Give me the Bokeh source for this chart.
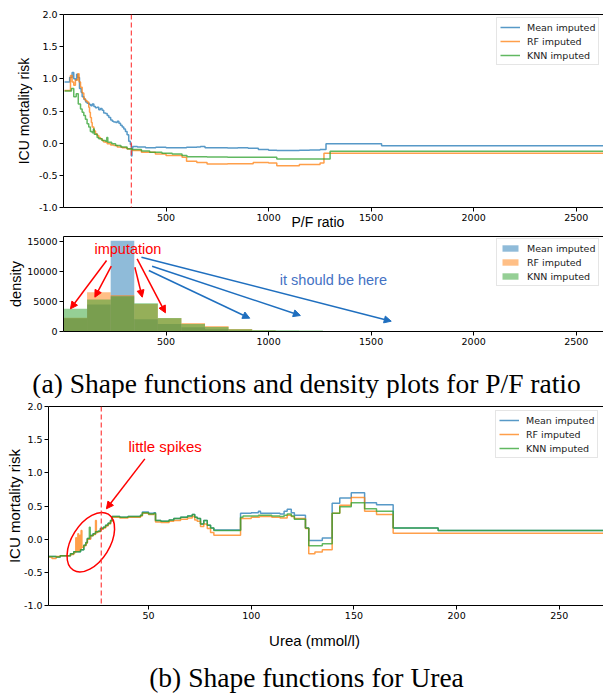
import numpy as np
from bokeh.plotting import figure
from bokeh.layouts import column
from bokeh.models import (Span, Label, Arrow, NormalHead, LinearAxis, FixedTicker,
                          Range1d, NumeralTickFormatter, Title)
from bokeh.embed import file_html
from bokeh.resources import INLINE

# ---------------- data ----------------
series_names = ["Mean imputed", "RF imputed", "KNN imputed"]
colors = ["#1f77b4", "#ff7f0e", "#2ca02c"]

# (a) shape functions, P/F ratio
pf_mean_x = [5, 30, 42, 50, 58, 64, 70, 78, 86, 91, 100, 108, 115, 125, 133, 140, 148, 156, 164, 172,
             180, 188, 196, 205, 213, 221, 230, 238, 245, 255, 262, 270, 278, 286, 294, 302, 310, 318, 326, 331,
             334, 338, 360, 400, 450, 500, 550, 600, 650, 668, 690, 750, 800, 850, 900, 950, 1000, 1040, 1100, 1150,
             1200, 1251, 1280, 1551, 2633]
pf_mean_y = [0.95, 1.02, 1.10, 1.00, 0.98, 1.07, 1.02, 0.85, 0.79, 0.72, 0.68, 0.64, 0.62, 0.60, 0.58, 0.61, 0.57, 0.55, 0.56, 0.52,
             0.54, 0.51, 0.47, 0.46, 0.43, 0.40, 0.36, 0.34, 0.33, 0.32, 0.34, 0.31, 0.28, 0.25, 0.22, 0.18, 0.13, 0.03, -0.02, -0.20,
             -0.08, -0.05, -0.06, -0.07, -0.065, -0.07, -0.07, -0.065, -0.06, -0.05, -0.07, -0.07, -0.075, -0.07, -0.08, -0.10, -0.11, -0.115, -0.115, -0.11,
             -0.105, -0.10, -0.01, -0.04, -0.04]

pf_rf_x = [5, 34, 42, 50, 58, 70, 76, 83, 91, 99, 107, 115, 123, 127, 131, 136, 140, 148, 156, 164,
           172, 180, 188, 196, 205, 213, 230, 245, 262, 286, 310, 334, 380, 448, 500, 578, 600, 650, 700, 800,
           925, 1000, 1040, 1150, 1251, 1270, 2633]
pf_rf_y = [0.82, 1.05, 0.95, 0.90, 0.98, 1.08, 0.95, 0.87, 0.78, 0.69, 0.66, 0.64, 0.56, 0.48, 0.40, 0.32, 0.25, 0.19, 0.145, 0.12,
           0.09, 0.067, 0.04, 0.02, 0.015, -0.01, -0.03, -0.037, -0.06, -0.073, -0.09, -0.115, -0.14, -0.167, -0.19, -0.22, -0.28, -0.30, -0.325, -0.32,
           -0.30, -0.31, -0.35, -0.33, -0.31, -0.157, -0.157]

pf_knn_x = [5, 39, 50, 62, 72, 83, 91, 99, 107, 115, 123, 131, 140, 146, 150, 164, 172, 188, 205, 211,
            216, 235, 254, 280, 310, 334, 380, 420, 480, 530, 578, 602, 700, 800, 925, 1040, 1300, 2633]
pf_knn_y = [0.81, 0.85, 0.72, 0.77, 0.61, 0.53, 0.48, 0.43, 0.37, 0.30, 0.25, 0.18, 0.16, 0.22, 0.14, 0.09, 0.07, 0.04, 0.03, 0.09,
            0.015, -0.01, -0.037, -0.06, -0.085, -0.10, -0.12, -0.14, -0.157, -0.17, -0.19, -0.21, -0.215, -0.22, -0.22, -0.245, -0.126, -0.126]

pf_cut = 331

# density plot, P/F ratio
hist_edges = [0, 115, 230, 345, 460, 575, 690, 805, 920, 1035, 1150, 1265]
hist_mean = [2200, 4500, 15100, 2030, 1250, 700, 380, 180, 80, 30, 10]
hist_rf = [2300, 6530, 6100, 4600, 2200, 1400, 900, 400, 150, 50, 15]
hist_knn = [3795, 5330, 5875, 4720, 2245, 1254, 760, 380, 250, 200, 150]

# (b) shape functions, Urea
urea_mean_x = [1.3, 5, 7, 12, 13.6, 16.9, 18.5, 19.5, 20.2, 21.8, 23, 24.2, 25.4, 26.6, 28, 29.1, 30.3, 31.5, 32.3, 36,
               40, 44, 46.1, 47, 50, 52.6, 53.4, 56, 60, 62.3, 65.6, 69, 71.3, 72.5, 73.7, 75.3, 76.9, 78.6, 80.2, 81.8,
               88, 94.8, 96, 100, 103.5, 104.5, 110, 114, 116, 117.5, 119.5, 121, 126.4, 128, 134.6, 139.4, 143.1, 148.7, 155.2, 161,
               169.1, 191, 271.5]
urea_mean_y = [-0.26, -0.27, -0.25, -0.22, -0.19, -0.16, -0.09, -0.05, 0.01, 0.06, 0.08, 0.11, 0.12, 0.16, 0.18, 0.21, 0.24, 0.28, 0.34, 0.33,
               0.34, 0.34, 0.36, 0.41, 0.39, 0.40, 0.28, 0.27, 0.29, 0.31, 0.33, 0.35, 0.37, 0.33, 0.31, 0.23, 0.28, 0.21, 0.17, 0.14,
               0.14, 0.39, 0.39, 0.40, 0.42, 0.39, 0.39, 0.38, 0.42, 0.45, 0.40, 0.36, 0.17, -0.02, 0.017, 0.54, 0.62, 0.70, 0.55, 0.52,
               0.17, 0.13, 0.13]

urea_rf_x = [1.3, 3, 5, 7, 12, 13.6, 14.6, 14.95, 15.6, 15.95, 16.6, 16.95, 17.2, 17.55, 18.5, 19.5, 20.2, 21.8, 23, 24.2,
             24.6, 25.4, 26.6, 28, 29.1, 30.3, 31.5, 32.3, 36, 40, 44, 46.1, 47, 50, 52.6, 53.4, 56, 60, 62.3, 65.6,
             69, 71.3, 72.5, 73.7, 75.3, 76.9, 78.6, 80.2, 81.8, 88, 94.8, 100, 104, 110, 114, 117.5, 119.5, 121, 126.4, 128,
             131, 134.6, 139.4, 143.1, 148.7, 155.2, 161, 169.1, 271.5]
urea_rf_y = [-0.27, -0.29, -0.26, -0.25, -0.23, -0.20, 0.02, -0.18, 0.08, -0.17, 0.06, -0.15, 0.13, -0.12, -0.10, -0.06, 0.00, 0.05, 0.07, 0.28,
             0.10, 0.11, 0.15, 0.17, 0.20, 0.23, 0.27, 0.33, 0.32, 0.33, 0.33, 0.35, 0.39, 0.37, 0.38, 0.26, 0.25, 0.27, 0.28, 0.30,
             0.32, 0.34, 0.29, 0.27, 0.19, 0.23, 0.16, 0.10, 0.06, 0.06, 0.31, 0.33, 0.34, 0.33, 0.32, 0.36, 0.34, 0.31, 0.16, -0.22,
             -0.195, -0.16, 0.39, 0.51, 0.63, 0.42, 0.37, 0.09, 0.09]

urea_knn_x = [1.3, 5, 7, 12, 13.6, 16.9, 18.5, 19.5, 20.2, 21.2, 21.6, 23, 24.2, 25.4, 26.6, 28, 29.1, 30.3, 31.5, 32.3,
              36, 40, 44, 46.1, 47, 50, 52.6, 53.4, 56, 60, 62.3, 65.6, 69, 71.3, 72.5, 73.7, 75.3, 76.9, 78.6, 80.2,
              81.8, 88, 94.8, 96, 100, 103.5, 110, 114, 116, 117.5, 119.5, 121, 126.4, 128, 134.6, 139.4, 143.1, 148.7, 155.2, 161,
              169.1, 191, 271.5]
urea_knn_y = [-0.26, -0.27, -0.25, -0.22, -0.19, -0.16, -0.09, -0.05, 0.01, 0.18, 0.05, 0.08, 0.11, 0.12, 0.16, 0.18, 0.21, 0.24, 0.28, 0.34,
              0.33, 0.34, 0.34, 0.36, 0.40, 0.38, 0.39, 0.28, 0.27, 0.29, 0.31, 0.33, 0.35, 0.37, 0.33, 0.31, 0.23, 0.28, 0.21, 0.17,
              0.13, 0.13, 0.33, 0.35, 0.35, 0.36, 0.35, 0.34, 0.36, 0.38, 0.35, 0.30, 0.17, -0.10, -0.07, 0.39, 0.49, 0.55, 0.46, 0.42,
              0.17, 0.13, 0.13]

urea_cut = 27

risk_ticks = [-1.0, -0.5, 0.0, 0.5, 1.0, 1.5, 2.0]
pf_ticks = [500, 1000, 1500, 2000, 2500]
density_ticks = [0, 5000, 10000, 15000]
urea_ticks = [50, 100, 150, 200, 250]

TICK_FONT = "DejaVu Sans"
LABEL_FONT = "Liberation Sans"
CAPTION_FONT = "Liberation Serif"
W = 603


def no_frame_align(f):
    try:
        f.frame_align = False
    except Exception:
        pass


def make_fig(height, xr, yr, mb_top, mb_bottom, mb_left, xticks, yticks, yfmt, ylabel, ylabel_size, ylabel_standoff):
    p = figure(width=W, height=height, x_range=Range1d(*xr), y_range=Range1d(*yr),
               output_backend="svg", toolbar_location=None,
               min_border_left=mb_left, min_border_right=0,
               min_border_top=mb_top, min_border_bottom=mb_bottom)
    no_frame_align(p)
    p.outline_line_color = None
    p.grid.visible = False
    p.background_fill_color = "white"
    p.border_fill_color = "white"
    p.xaxis.ticker = FixedTicker(ticks=xticks)
    p.yaxis.ticker = FixedTicker(ticks=yticks)
    p.yaxis.formatter = NumeralTickFormatter(format=yfmt)
    for ax in (p.xaxis[0], p.yaxis[0]):
        ax.axis_line_color = "black"
        ax.axis_line_width = 1
        ax.major_tick_line_color = "black"
        ax.major_tick_in = 0
        ax.major_tick_out = 4
        ax.minor_tick_line_color = None
        ax.major_label_text_font = TICK_FONT
        ax.major_label_text_font_size = "9.5px"
        ax.major_label_text_color = "black"
        ax.major_label_standoff = 2
    ya = p.yaxis[0]
    ya.axis_label = ylabel
    ya.axis_label_text_font = LABEL_FONT
    ya.axis_label_text_font_size = ylabel_size
    ya.axis_label_text_font_style = "normal"
    ya.axis_label_text_color = "black"
    ya.axis_label_standoff = ylabel_standoff
    top = LinearAxis(ticker=FixedTicker(ticks=[]), axis_line_color="black",
                     major_tick_line_color=None, minor_tick_line_color=None,
                     major_label_text_font_size="0px")
    p.add_layout(top, "above")
    return p


def text_strip(height):
    s = figure(width=W, height=height, x_range=Range1d(0, W), y_range=Range1d(height, 0),
               output_backend="svg", toolbar_location=None,
               x_axis_type=None, y_axis_type=None,
               min_border_left=0, min_border_right=0, min_border_top=0, min_border_bottom=0)
    no_frame_align(s)
    s.outline_line_color = None
    s.grid.visible = False
    s.background_fill_color = "white"
    s.border_fill_color = "white"
    return s


def style_legend(p, loc, glyph_h=12):
    lg = p.legend[0]
    lg.location = loc
    lg.label_text_font = TICK_FONT
    lg.label_text_font_size = "9.5px"
    lg.label_text_color = "#222222"
    lg.glyph_width = 20
    lg.glyph_height = glyph_h
    lg.label_height = 12
    lg.label_standoff = 7
    lg.spacing = 2
    lg.padding = 3
    lg.margin = 0
    lg.border_line_color = "#cccccc"
    lg.border_line_width = 1
    lg.background_fill_alpha = 0.85


def add_label(p, x, y, text, size, color="black", font=LABEL_FONT,
              align="center", baseline="middle"):
    p.add_layout(Label(x=x, y=y, text=text, text_font=font, text_font_size=size,
                       text_color=color, text_align=align, text_baseline=baseline))


def add_arrow(p, x0, y0, x1, y1, color):
    p.add_layout(Arrow(x_start=x0, y_start=y0, x_end=x1, y_end=y1,
                       line_color=color, line_width=1.5,
                       end=NormalHead(size=7, fill_color=color, line_color=color)))


# ---------------- (a) top: shape functions ----------------
p1 = make_fig(232, (0, 2633), (-1, 2), 14, 25, 63, pf_ticks, risk_ticks, "0.0",
              "ICU mortality risk", "14px", 4)
for xs, ys, c, n in zip([pf_mean_x, pf_rf_x, pf_knn_x], [pf_mean_y, pf_rf_y, pf_knn_y], colors, series_names):
    p1.step(xs, ys, mode="after", line_color=c, line_width=1.5, line_alpha=0.75, legend_label=n)
p1.add_layout(Span(location=pf_cut, dimension="height", line_color="#ff3030",
                   line_dash="5 3", line_width=1.3, line_alpha=0.85))
style_legend(p1, (433, 142))
p1.add_layout(Title(text="P/F ratio", align="left", offset=228, standoff=-20,
                    vertical_align="top", text_font=LABEL_FONT, text_font_size="14px",
                    text_font_style="normal", text_color="black"), "below")

# ---------------- (a) bottom: density ----------------
p2 = make_fig(118, (0, 2633), (0, 15825), 4, 19, 63, pf_ticks, density_ticks, "0",
              "density", "14.5px", 0)
for vals, c, n in zip([hist_mean, hist_rf, hist_knn], colors, series_names):
    p2.quad(left=hist_edges[:-1], right=hist_edges[1:], bottom=0, top=vals,
            fill_color=c, fill_alpha=0.5, line_color=None, legend_label=n)
style_legend(p2, (433, 45), glyph_h=8)
add_label(p2, 314, 13660, "imputation", "14.5px", color="red")
for (x0, y0, x1, y1) in [(210, 11827, 34, 3781), (233, 10877, 153, 5714),
                         (348, 10711, 384, 5714), (359, 12110, 497, 3115)]:
    add_arrow(p2, x0, y0, x1, y1, "red")
for (x0, y0, x1, y1) in [(416, 10161, 908, 2216), (432, 10877, 1155, 2665),
                         (380, 12377, 1598, 1716)]:
    add_arrow(p2, x0, y0, x1, y1, "#1f6fbf")
add_label(p2, 1316, 8496, "it should be here", "14.5px", color="#4472c4")

capA = text_strip(48)
add_label(capA, 306, 33, "(a) Shape functions and density plots for P/F ratio", "27.5px",
          font=CAPTION_FONT)

# ---------------- (b) Urea ----------------
p3 = make_fig(227, (1.3, 271.5), (-1, 2), 8, 20, 48, urea_ticks, risk_ticks, "0.0",
              "ICU mortality risk", "15px", -2)
for xs, ys, c, n in zip([urea_mean_x, urea_rf_x, urea_knn_x], [urea_mean_y, urea_rf_y, urea_knn_y], colors, series_names):
    p3.step(xs, ys, mode="after", line_color=c, line_width=1.5, line_alpha=0.75, legend_label=n)
p3.add_layout(Span(location=urea_cut, dimension="height", line_color="#ff3030",
                   line_dash="5 3", line_width=1.3, line_alpha=0.85))
style_legend(p3, (447, 147))
p3.ellipse(x=[21.9], y=[-0.046], width=66, height=38, angle=np.radians(58),
           width_units="screen", height_units="screen",
           fill_color=None, line_color="red", line_width=1.5)
add_label(p3, 58.1, 1.397, "little spikes", "15px", color="red")
add_arrow(p3, 48.2, 1.211, 29.5, 0.458, "red")

capB = text_strip(69)
add_label(capB, 314, 15, "Urea (mmol/l)", "15px")
add_label(capB, 306, 52, "(b) Shape functions for Urea", "27.5px", font=CAPTION_FONT)

layout = column(p1, p2, capA, p3, capB, spacing=0)
open("out.html", "w").write(file_html(layout, INLINE))
